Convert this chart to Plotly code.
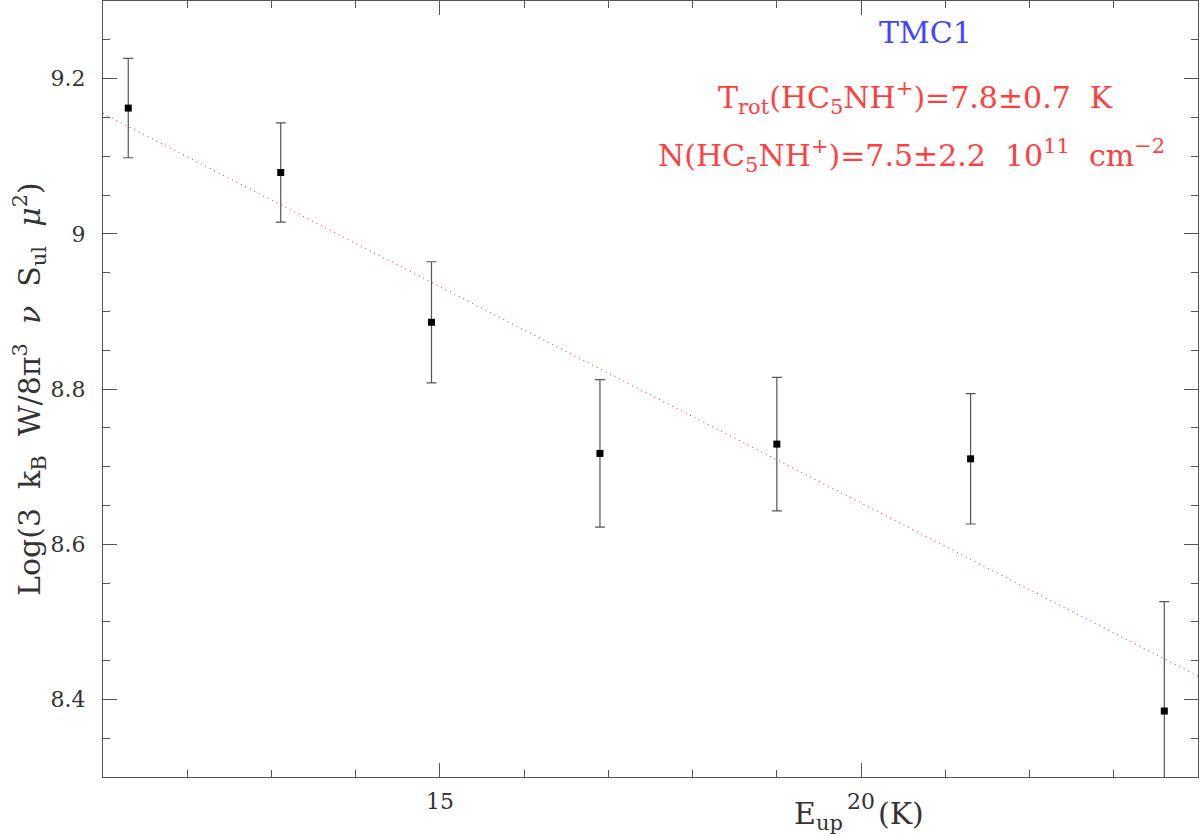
import plotly.graph_objects as go

# Rotational diagram points for HC5NH+ in TMC1
e_up = [11.30, 13.11, 14.90, 16.90, 19.00, 21.30, 23.60]
log_n = [9.162, 9.079, 8.886, 8.717, 8.729, 8.710, 8.385]
err = [0.064, 0.064, 0.078, 0.095, 0.086, 0.084, 0.141]

# fitted line (Trot = 7.8 K)
fit_x = [11.0, 24.0]
fit_y = [9.155, 8.430]

x_ticks = [15, 20]
y_ticks = [8.4, 8.6, 8.8, 9.0, 9.2]
y_tick_text = ["8.4", "8.6", "8.8", "9", "9.2"]

font = "DejaVu Serif"
axis_col = "#555555"
text_col = "#333333"

fig = go.Figure()

fig.add_trace(go.Scatter(
    x=fit_x, y=fit_y, mode="lines",
    line=dict(color="#ff5050", width=1.2, dash="1px,4px"),
    hoverinfo="skip", showlegend=False))

fig.add_trace(go.Scatter(
    x=e_up, y=log_n, mode="markers",
    marker=dict(symbol="square", size=7, color="black"),
    error_y=dict(type="data", array=err, color=axis_col, thickness=1.2, width=5),
    showlegend=False))

fig.update_xaxes(
    range=[11, 24], showline=True, linecolor=axis_col, linewidth=1.2, mirror="ticks",
    showgrid=False, zeroline=False,
    tickmode="array", tickvals=x_ticks, ticktext=["15", "20"],
    ticks="inside", ticklen=14, tickcolor=axis_col, tickwidth=1,
    tickfont=dict(family=font, size=22, color=text_col), ticklabelstandoff=4,
    minor=dict(dtick=1, tick0=0, ticks="inside", ticklen=7, tickcolor=axis_col, tickwidth=1))

fig.update_yaxes(
    range=[8.3, 9.3], showline=True, linecolor=axis_col, linewidth=1.2, mirror="ticks",
    showgrid=False, zeroline=False,
    tickmode="array", tickvals=y_ticks, ticktext=y_tick_text,
    ticks="inside", ticklen=14, tickcolor=axis_col, tickwidth=1,
    tickfont=dict(family=font, size=22, color=text_col), ticklabelstandoff=12,
    minor=dict(dtick=0.05, tick0=0, ticks="inside", ticklen=7, tickcolor=axis_col, tickwidth=1))

big = dict(family=font, size=30)

fig.add_annotation(
    text="Log(3  k<sub>B</sub>  W/8π<sup>3</sup>  <i>ν</i>  S<sub>ul</sub>  <i>μ</i><sup>2</sup>)",
    xref="paper", yref="paper", x=0, y=0.5, xshift=-74, xanchor="center", yanchor="middle",
    textangle=-90, showarrow=False, font=dict(color=text_col, **big))

fig.add_annotation(text="E<sub>up</sub>", xref="x", yref="paper", x=20, y=0,
                   xshift=-16, yshift=-38, xanchor="right", yanchor="middle",
                   showarrow=False, font=dict(color=text_col, **big))
fig.add_annotation(text="(K)", xref="x", yref="paper", x=20, y=0,
                   xshift=15, yshift=-36, xanchor="left", yanchor="middle",
                   showarrow=False, font=dict(color=text_col, **big))

fig.add_annotation(text="TMC1", xref="paper", yref="paper", x=(925 - 103) / 1095,
                   y=(777 - 33) / 776, xanchor="center", yanchor="middle",
                   showarrow=False, font=dict(color="#4444ff", **big))
fig.add_annotation(text="T<sub>rot</sub>(HC<sub>5</sub>NH<sup>+</sup>)=7.8±0.7  K",
                   xref="paper", yref="paper", x=(916 - 103) / 1095,
                   y=(777 - 97) / 776, xanchor="center", yanchor="middle",
                   showarrow=False, font=dict(color="#ff4040", **big))
fig.add_annotation(text="N(HC<sub>5</sub>NH<sup>+</sup>)=7.5±2.2  10<sup>11</sup>  cm<sup>−2</sup>",
                   xref="paper", yref="paper", x=(911 - 103) / 1095,
                   y=(777 - 156) / 776, xanchor="center", yanchor="middle",
                   showarrow=False, font=dict(color="#ff4040", **big))

fig.update_layout(
    width=1200, height=836,
    margin=dict(l=103, r=2, t=1, b=59),
    plot_bgcolor="white", paper_bgcolor="white",
    font=dict(family=font, color=text_col))

fig.write_html("out.html", config={"displayModeBar": False},
               post_script="document.body.style.margin='0';")
